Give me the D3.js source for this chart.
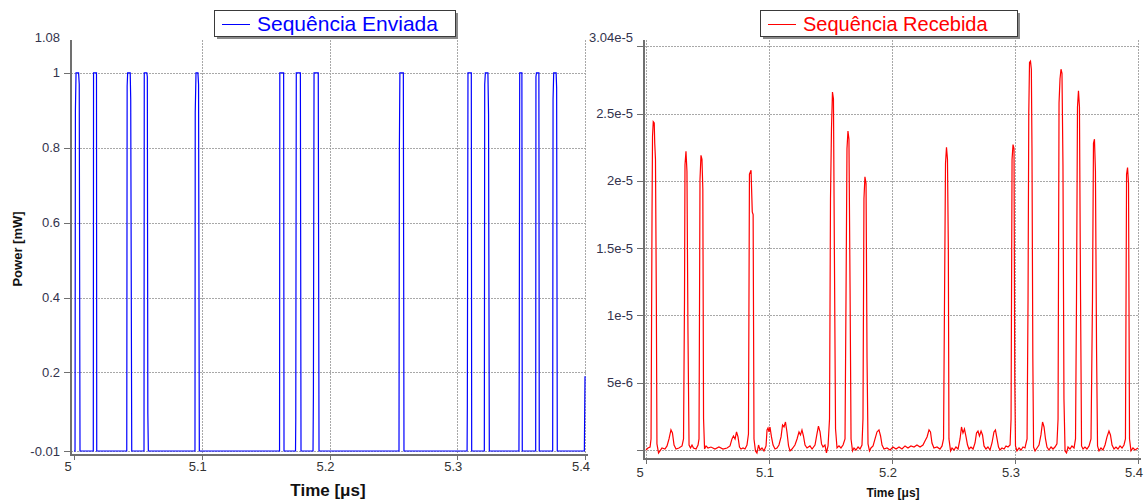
<!DOCTYPE html>
<html>
<head>
<meta charset="utf-8">
<script src="https://cdn.jsdelivr.net/npm/d3@7"></script>
<style>
  body { margin: 0; background: #fff; }
  svg { display: block; font-family: "Liberation Sans", Arial, sans-serif; }
</style>
</head>
<body>
<div id="vis"></div>
<script>

////////////////////////////////////////
/////////////// Data ///////////////////
////////////////////////////////////////

const timeTicks = [5, 5.1, 5.2, 5.3, 5.4];

const sentTicks = [1.08, 1, 0.8, 0.6, 0.4, 0.2, -0.01];
const sentGrid = [1, 0.8, 0.6, 0.4, 0.2, -0.01];

const recvTicks = [3.04e-5, 2.5e-5, 2e-5, 1.5e-5, 1e-5, 5e-6];
const recvGrid = [3e-5, 2.5e-5, 2e-5, 1.5e-5, 1e-5, 5e-6, 0];

// sent sequence [time µs, power mW]
const sentSignal = [
  [5.0, -0.01],
  [5.0008, -0.01], [5.0011, 0.9], [5.0016, 1], [5.0036, 1], [5.0041, 0.97], [5.0047, -0.01],
  [5.0151, -0.01], [5.0153, 1], [5.0176, 1], [5.0178, -0.01],
  [5.0413, -0.01], [5.0416, 0.965], [5.0420, 1], [5.0440, 1], [5.0444, 0.93], [5.0452, -0.01],
  [5.0548, -0.01], [5.0550, 1], [5.0570, 1], [5.0574, 0.99], [5.0578, 0.09], [5.0582, -0.01],
  [5.0947, -0.01], [5.0949, 0.895], [5.0955, 1], [5.0970, 1], [5.0975, 0.97], [5.0981, -0.01],
  [5.1609, -0.01], [5.1611, 1], [5.1641, 1], [5.1644, -0.01],
  [5.1734, -0.01], [5.1736, 0.075], [5.1740, 1], [5.1772, 1], [5.1777, -0.01],
  [5.1871, -0.01], [5.1874, 0.14], [5.1879, 1], [5.1912, 1], [5.1918, -0.01],
  [5.2544, -0.01], [5.2547, 0.8], [5.2551, 1], [5.2578, 1], [5.2583, -0.01],
  [5.3077, -0.01], [5.3079, 0.11], [5.3084, 1], [5.3110, 1], [5.3113, -0.01],
  [5.3212, -0.01], [5.3215, 0.97], [5.3220, 1], [5.3240, 1], [5.3245, 0.89], [5.3251, -0.01],
  [5.3483, -0.01], [5.3485, 0.2], [5.3489, 1], [5.3506, 1], [5.3509, -0.01],
  [5.3614, -0.01], [5.3616, 0.99], [5.3620, 1], [5.3639, 1], [5.3642, -0.01],
  [5.3747, -0.01], [5.3750, 0.93], [5.3755, 1], [5.3774, 1], [5.3778, 0.96], [5.3783, -0.01],
  [5.3995, -0.01], [5.4, 0.19]
];

// received sequence [time µs, power mW]
const recvSignal = [
  [5.0000, 0], [5.0016, 1.5e-7], [5.0033, 2.2e-7], [5.0041, 8.2e-7], [5.0049, 1.75e-5],
  [5.0053, 2.33e-5], [5.0059, 2.44e-5], [5.0067, 2.43e-5], [5.0071, 2.28e-5], [5.0077, 2.16e-5],
  [5.0084, 1.12e-5], [5.0089, 4.5e-7], [5.0102, -2.2e-7], [5.0114, -7e-8], [5.0130, 1.5e-7],
  [5.0154, 7e-8], [5.0171, 3e-7], [5.0187, 8.2e-7], [5.0203, 1.49e-6], [5.0215, 1.26e-6],
  [5.0228, 3.7e-7], [5.0244, 7e-8], [5.0268, 1.5e-7], [5.0293, 3e-7], [5.0305, 8.2e-7],
  [5.0313, 1.12e-5], [5.0317, 2.12e-5], [5.0325, 2.22e-5], [5.0333, 2.07e-5], [5.0341, 9.0e-6],
  [5.0350, 3.7e-7], [5.0362, 1.5e-7], [5.0374, 3.7e-7], [5.0386, 1.5e-7], [5.0407, 7e-8],
  [5.0423, 3.7e-7], [5.0431, 8.2e-7], [5.0439, 2.01e-5], [5.0447, 2.19e-5], [5.0455, 2.16e-5],
  [5.0462, 1.94e-5], [5.0468, 2.3e-6], [5.0476, 7e-8], [5.0488, 3e-7], [5.0504, 1.5e-7],
  [5.0528, 2.2e-7], [5.0561, 7e-8], [5.0593, 2.2e-7], [5.0626, 7e-8], [5.0659, 1.5e-7],
  [5.0683, 3e-7], [5.0699, 8.2e-7], [5.0711, 1.04e-6], [5.0724, 8.2e-7], [5.0736, 1.34e-6],
  [5.0748, 9.7e-7], [5.0760, 2.2e-7], [5.0772, 7e-8], [5.0789, 1.5e-7], [5.0805, 7e-8],
  [5.0821, 3.7e-7], [5.0833, 1.19e-6], [5.0841, 2.05e-5], [5.0854, 2.08e-5], [5.0864, 1.77e-5],
  [5.0871, 1.75e-5], [5.0878, 8.2e-7], [5.0890, -7e-8], [5.0902, -2.2e-7], [5.0915, 3.7e-7],
  [5.0927, 0], [5.0943, 1.5e-7], [5.0959, -7e-8], [5.0976, 3e-7], [5.0984, 1.49e-6],
  [5.0992, 1.64e-6], [5.1000, 1.34e-6], [5.1008, 1.71e-6], [5.1020, 9.7e-7], [5.1033, 3.7e-7],
  [5.1049, 7e-8], [5.1065, 1.5e-7], [5.1081, 3.7e-7], [5.1098, 9.7e-7], [5.1110, 1.86e-6],
  [5.1122, 1.71e-6], [5.1134, 2.08e-6], [5.1146, 1.34e-6], [5.1159, 3e-7], [5.1171, -7e-8],
  [5.1187, 7e-8], [5.1211, 3.7e-7], [5.1228, 8.2e-7], [5.1244, 1.34e-6], [5.1256, 1.12e-6],
  [5.1268, 1.49e-6], [5.1280, 1.04e-6], [5.1293, 3.7e-7], [5.1309, 1.5e-7], [5.1333, 3e-7],
  [5.1350, 7e-8], [5.1374, 3.7e-7], [5.1390, 1.19e-6], [5.1402, 1.78e-6], [5.1415, 1.34e-6],
  [5.1427, 4.5e-7], [5.1439, 2.2e-7], [5.1455, 3.7e-7], [5.1467, -2.2e-7], [5.1480, 3e-7],
  [5.1492, 2.3e-6], [5.1500, 1.87e-5], [5.1508, 2.39e-5], [5.1516, 2.66e-5], [5.1524, 2.61e-5],
  [5.1532, 1.42e-5], [5.1541, 1.56e-6], [5.1553, 1.5e-7], [5.1569, 3e-7], [5.1585, 1.5e-7],
  [5.1602, 3.7e-7], [5.1618, 8.2e-7], [5.1626, 1.12e-5], [5.1634, 2.24e-5], [5.1642, 2.37e-5],
  [5.1650, 2.31e-5], [5.1659, 1.2e-5], [5.1667, 8.2e-7], [5.1679, -7e-8], [5.1691, 1.5e-7],
  [5.1707, 0], [5.1724, 2.2e-7], [5.1740, 7e-8], [5.1756, 3.7e-7], [5.1764, 2.3e-6],
  [5.1772, 1.87e-5], [5.1780, 2.03e-5], [5.1789, 1.98e-5], [5.1797, 6.8e-6], [5.1805, 4.5e-7],
  [5.1817, -7e-8], [5.1829, 1.5e-7], [5.1846, 3e-7], [5.1862, 8.2e-7], [5.1878, 1.34e-6],
  [5.1894, 1.49e-6], [5.1907, 1.04e-6], [5.1919, 3.7e-7], [5.1935, 7e-8], [5.1959, 1.5e-7],
  [5.1984, 0], [5.2008, 2.2e-7], [5.2033, 7e-8], [5.2057, 2.2e-7], [5.2081, 7e-8],
  [5.2106, 3e-7], [5.2130, 1.5e-7], [5.2154, 3e-7], [5.2179, 2.2e-7], [5.2203, 3.7e-7],
  [5.2228, 2.2e-7], [5.2252, 3.7e-7], [5.2268, 6.7e-7], [5.2285, 9.7e-7], [5.2301, 1.49e-6],
  [5.2313, 1.34e-6], [5.2325, 5.2e-7], [5.2341, 1.5e-7], [5.2366, 2.2e-7], [5.2390, 7e-8],
  [5.2407, 3e-7], [5.2419, 8.2e-7], [5.2427, 1.12e-5], [5.2435, 2.13e-5], [5.2443, 2.25e-5],
  [5.2451, 2.16e-5], [5.2458, 1.49e-5], [5.2463, 8.2e-7], [5.2476, -7e-8], [5.2488, 1.5e-7],
  [5.2504, 0], [5.2520, 2.2e-7], [5.2537, 7e-8], [5.2553, 8.2e-7], [5.2565, 1.71e-6],
  [5.2577, 1.26e-6], [5.2589, 1.56e-6], [5.2602, 9.7e-7], [5.2614, 3.7e-7], [5.2626, 7e-8],
  [5.2642, 2.2e-7], [5.2659, 7e-8], [5.2675, 5.2e-7], [5.2687, 1.26e-6], [5.2699, 1.41e-6],
  [5.2711, 1.04e-6], [5.2724, 1.41e-6], [5.2736, 1.12e-6], [5.2748, 3e-7], [5.2764, 7e-8],
  [5.2780, 2.2e-7], [5.2797, 0], [5.2813, 5.2e-7], [5.2829, 1.34e-6], [5.2841, 1.49e-6],
  [5.2854, 8.2e-7], [5.2866, 2.2e-7], [5.2878, 0], [5.2894, 1.5e-7], [5.2911, 7e-8],
  [5.2927, 3e-7], [5.2943, 2.2e-7], [5.2960, 3.7e-7], [5.2968, 2.3e-6], [5.2976, 2.16e-5],
  [5.2984, 2.27e-5], [5.2992, 2.24e-5], [5.2998, 5.3e-6], [5.3004, 3e-7], [5.3016, -7e-8],
  [5.3033, 1.5e-7], [5.3049, 0], [5.3065, 2.2e-7], [5.3081, 1.5e-7], [5.3098, 8.2e-7],
  [5.3106, 1.12e-5], [5.3112, 2.5e-5], [5.3118, 2.88e-5], [5.3126, 2.89e-5], [5.3133, 2.83e-5],
  [5.3138, 2.24e-5], [5.3145, 6.8e-6], [5.3151, 2.2e-7], [5.3163, -7e-8], [5.3179, 1.5e-7],
  [5.3195, 3.7e-7], [5.3211, 1.12e-6], [5.3224, 2.08e-6], [5.3236, 1.71e-6], [5.3248, 8.2e-7],
  [5.3260, 2.2e-7], [5.3276, 0], [5.3293, 2.2e-7], [5.3309, 7e-8], [5.3325, 2.2e-7],
  [5.3341, 4.5e-7], [5.3350, 2.3e-6], [5.3358, 2.58e-5], [5.3366, 2.76e-5], [5.3374, 2.83e-5],
  [5.3382, 2.8e-5], [5.3390, 2.11e-5], [5.3398, 3.8e-6], [5.3407, -7e-8], [5.3419, -2.2e-7],
  [5.3431, 2.2e-7], [5.3447, 7e-8], [5.3463, 3e-7], [5.3480, 1.5e-7], [5.3492, 8.2e-7],
  [5.3500, 1.12e-5], [5.3508, 2.55e-5], [5.3516, 2.67e-5], [5.3524, 2.55e-5], [5.3533, 1.12e-5],
  [5.3541, 3e-7], [5.3553, 7e-8], [5.3569, 2.2e-7], [5.3585, 7e-8], [5.3602, 3e-7],
  [5.3618, 8.2e-7], [5.3630, 1.12e-5], [5.3638, 2.28e-5], [5.3646, 2.31e-5], [5.3654, 2.07e-5],
  [5.3663, 7.5e-6], [5.3671, 3e-7], [5.3683, -7e-8], [5.3699, 1.5e-7], [5.3715, 0],
  [5.3732, 3.7e-7], [5.3748, 9.7e-7], [5.3764, 1.41e-6], [5.3776, 1.12e-6], [5.3789, 3.7e-7],
  [5.3805, 7e-8], [5.3821, 2.2e-7], [5.3837, 7e-8], [5.3854, 3e-7], [5.3870, 1.5e-7],
  [5.3886, 3.7e-7], [5.3898, 8.2e-7], [5.3907, 2.05e-5], [5.3915, 2.1e-5], [5.3923, 1.98e-5],
  [5.3931, 8.2e-7], [5.3943, -7e-8], [5.3959, 1.5e-7], [5.3976, 0], [5.4000, 1.5e-7]
];

////////////////////////////////////////
////////////// SVG Setup ///////////////
////////////////////////////////////////

const svg = d3.select('#vis').append('svg')
  .attr('width', 1148)
  .attr('height', 500);

const gridColor = '#a8a8a8';
const axisColor = '#707070';
const labelColor = '#33334d';

////////////////////////////////////////
////////////// Panels //////////////////
////////////////////////////////////////

function panel(o) {

  const g = svg.append('g');

  const x = d3.scaleLinear().domain([5, 5.4]).range(o.xRange);
  const y = d3.scaleLinear().domain(o.yDomain).range(o.yRange);

  const top = 40;

  // vertical grid
  g.selectAll('.vgrid')
    .data(timeTicks.filter(d => d > 5 || o.gridAtStart))
    .join('line')
    .attr('x1', d => Math.round(x(d)) + 0.5)
    .attr('x2', d => Math.round(x(d)) + 0.5)
    .attr('y1', top)
    .attr('y2', o.axisY)
    .attr('stroke', gridColor)
    .attr('stroke-dasharray', '2,1');

  // horizontal grid
  g.selectAll('.hgrid')
    .data(o.grid)
    .join('line')
    .attr('x1', o.axisX)
    .attr('x2', x(5.4) + 1)
    .attr('y1', d => Math.round(y(d)) + 0.5)
    .attr('y2', d => Math.round(y(d)) + 0.5)
    .attr('stroke', gridColor)
    .attr('stroke-dasharray', '2,1');

  // axis lines
  g.append('line')
    .attr('x1', o.axisX).attr('x2', o.axisX)
    .attr('y1', top).attr('y2', o.axisY + 1)
    .attr('stroke', axisColor)
    .attr('stroke-width', 2);

  g.append('line')
    .attr('x1', o.axisX - 1).attr('x2', x(5.4) + 3)
    .attr('y1', o.axisY).attr('y2', o.axisY)
    .attr('stroke', axisColor)
    .attr('stroke-width', 2);

  // y ticks
  g.selectAll('.ytick')
    .data(o.grid)
    .join('line')
    .attr('x1', o.axisX - 7)
    .attr('x2', o.axisX)
    .attr('y1', d => Math.round(y(d)) + 0.5)
    .attr('y2', d => Math.round(y(d)) + 0.5)
    .attr('stroke', axisColor);

  // x ticks
  g.selectAll('.xtick')
    .data(timeTicks)
    .join('line')
    .attr('x1', d => Math.round(x(d)) + 0.5)
    .attr('x2', d => Math.round(x(d)) + 0.5)
    .attr('y1', o.axisY)
    .attr('y2', o.axisY + 5)
    .attr('stroke', axisColor);

  // y labels
  g.selectAll('.ylabel')
    .data(o.ticks)
    .join('text')
    .attr('x', o.axisX - 11)
    .attr('y', d => d === o.yDomain[1] ? 37 : y(d))
    .attr('dy', '0.35em')
    .attr('text-anchor', 'end')
    .attr('font-size', 13)
    .attr('fill', labelColor)
    .text(o.format);

  // x labels
  g.selectAll('.xlabel')
    .data(timeTicks)
    .join('text')
    .attr('x', d => x(d) - (d === 5 ? 6 : 4))
    .attr('y', o.axisY + o.labelGap)
    .attr('dy', '0.35em')
    .attr('text-anchor', 'middle')
    .attr('font-size', 13)
    .attr('fill', '#333')
    .text(d => d3.format('')(d));

  // x title
  g.append('text')
    .attr('x', o.titleX)
    .attr('y', o.titleY)
    .attr('text-anchor', 'middle')
    .attr('font-size', o.titleSize)
    .attr('font-weight', 'bold')
    .attr('fill', '#111')
    .text('Time [μs]');

  // signal
  const line = d3.line()
    .x(d => x(d[0]))
    .y(d => y(d[1]));

  g.append('path')
    .datum(o.data)
    .attr('d', line)
    .attr('fill', 'none')
    .attr('stroke', o.color)
    .attr('stroke-width', 1.2)
    .attr('stroke-linejoin', 'miter');

  // legend
  const lg = g.append('g')
    .attr('transform', `translate(${o.legend.x},${o.legend.y})`);

  lg.append('rect')
    .attr('x', 3).attr('y', 3)
    .attr('width', o.legend.w).attr('height', 26)
    .attr('fill', '#8a8a8a');

  lg.append('rect')
    .attr('x', 0.5).attr('y', 0.5)
    .attr('width', o.legend.w).attr('height', 26)
    .attr('fill', '#fff')
    .attr('stroke', '#3a3a3a');

  lg.append('line')
    .attr('x1', 8).attr('x2', 36)
    .attr('y1', 14.5).attr('y2', 14.5)
    .attr('stroke', o.color);

  lg.append('text')
    .attr('x', 43)
    .attr('y', 21)
    .attr('font-size', o.legend.size)
    .attr('fill', o.color)
    .text(o.legend.text);
}

panel({
  xRange: [74, 585],
  yDomain: [-0.01, 1.08],
  yRange: [451, 43],
  axisX: 71,
  axisY: 455,
  labelGap: 11,
  grid: sentGrid,
  ticks: sentTicks,
  format: d => String(d),
  data: sentSignal,
  color: '#0000ff',
  titleX: 328,
  titleY: 496,
  titleSize: 17,
  legend: { x: 214, y: 10, w: 241, size: 21, text: 'Sequência Enviada' }
});

panel({
  xRange: [646, 1138],
  yDomain: [-1.5e-7, 3.04e-5],
  yRange: [452, 41],
  axisX: 644,
  axisY: 459,
  labelGap: 13,
  gridAtStart: true,
  grid: recvGrid,
  ticks: recvTicks,
  format: d => d3.format('.3~e')(d),
  data: recvSignal,
  color: '#ff0000',
  titleX: 893,
  titleY: 497,
  titleSize: 12,
  legend: { x: 760, y: 10, w: 257, size: 20, text: 'Sequência Recebida' }
});

// y title (left panel only)
svg.append('text')
  .attr('transform', 'translate(22,249) rotate(-90)')
  .attr('text-anchor', 'middle')
  .attr('font-size', 13)
  .attr('font-weight', 'bold')
  .attr('fill', '#111')
  .text('Power [mW]');

</script>
</body>
</html>
